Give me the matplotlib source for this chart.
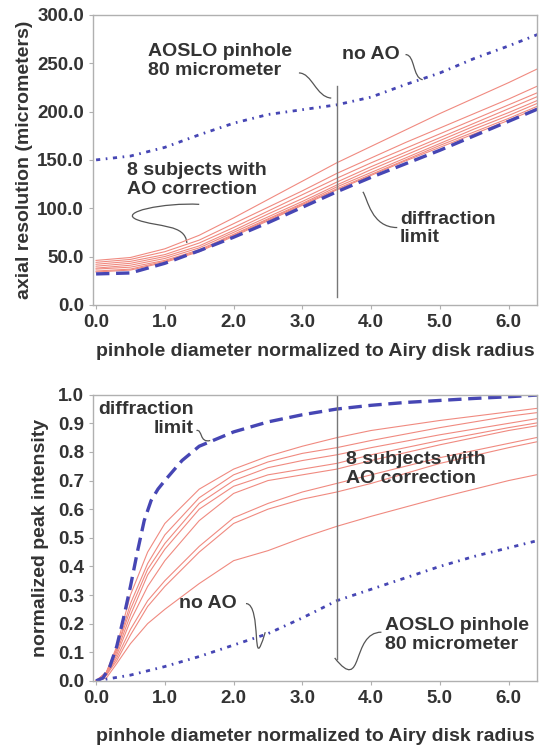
import numpy as np
import matplotlib
matplotlib.use("Agg")
from matplotlib import pyplot as plt
from matplotlib.path import Path
from matplotlib.patches import PathPatch

plt.rcParams['font.family'] = ['Liberation Sans', 'DejaVu Sans']
plt.rcParams['font.weight'] = 'bold'
plt.rcParams['axes.labelweight'] = 'bold'

# ---- top panel: axial resolution (micrometers)
x_top = [0, 0.5, 1.0, 1.5, 2.0, 2.5, 3.0, 3.5, 4.0, 4.5, 5.0, 5.5, 6.0, 6.5]
noao_top = [150, 154, 163, 176, 188, 197, 202, 207, 215, 228, 240, 255, 268, 282]
diff_top = [32, 33, 43, 56, 70, 85, 101, 117, 132, 146, 160, 175, 190, 205]
ao_top = [
    [46, 49, 58, 72, 90, 109, 128, 147, 164, 181, 198, 214, 230, 247],
    [44, 47, 55, 67, 84, 101, 118, 136, 152, 168, 183, 198, 213, 229],
    [42, 45, 52, 64, 80, 97, 114, 131, 147, 162, 177, 192, 207, 222],
    [40, 43, 50, 61, 77, 94, 110, 127, 143, 158, 173, 188, 203, 218],
    [38, 41, 48, 59, 75, 91, 107, 124, 140, 155, 170, 185, 199, 214],
    [37, 39, 46, 57, 73, 89, 105, 122, 137, 152, 167, 182, 196, 211],
    [35, 37, 45, 56, 72, 88, 104, 120, 135, 150, 165, 179, 193, 208],
    [34, 36, 44, 55, 71, 87, 103, 119, 134, 149, 163, 177, 191, 206],
]

# ---- bottom panel: normalized peak intensity
x_diff = [0, 0.1, 0.2, 0.3, 0.4, 0.5, 0.6, 0.7, 0.8, 0.9, 1.0, 1.25, 1.5,
          2.0, 2.5, 3.0, 3.5, 4.0, 4.5, 5.0, 5.5, 6.0, 6.5]
diff_bot = [0, 0.01, 0.05, 0.12, 0.22, 0.33, 0.45, 0.56, 0.63, 0.67, 0.70,
            0.77, 0.82, 0.87, 0.905, 0.93, 0.95, 0.963, 0.973, 0.98, 0.987,
            0.993, 1.0]
x_noao = [0, 0.5, 1.0, 1.5, 2.0, 2.5, 3.0, 3.5, 4.0, 4.5, 5.0, 5.5, 6.0, 6.5]
noao_bot = [0, 0.02, 0.05, 0.085, 0.125, 0.165, 0.22, 0.28, 0.32, 0.36,
            0.40, 0.435, 0.465, 0.495]
x_ao = [0, 0.15, 0.3, 0.5, 0.75, 1.0, 1.5, 2.0, 2.5, 3.0, 3.5, 4.0, 5.0, 6.0, 6.5]
ao_bot = [
    [0, 0.03, 0.12, 0.30, 0.45, 0.55, 0.67, 0.74, 0.785, 0.82, 0.85, 0.875, 0.91, 0.94, 0.955],
    [0, 0.03, 0.11, 0.27, 0.41, 0.51, 0.64, 0.72, 0.765, 0.795, 0.815, 0.84, 0.885, 0.925, 0.94],
    [0, 0.03, 0.11, 0.25, 0.39, 0.48, 0.62, 0.70, 0.745, 0.77, 0.79, 0.815, 0.86, 0.90, 0.92],
    [0, 0.02, 0.10, 0.23, 0.37, 0.46, 0.60, 0.68, 0.72, 0.74, 0.76, 0.79, 0.84, 0.885, 0.905],
    [0, 0.02, 0.09, 0.21, 0.33, 0.42, 0.56, 0.655, 0.70, 0.72, 0.74, 0.77, 0.825, 0.875, 0.895],
    [0, 0.02, 0.08, 0.18, 0.28, 0.35, 0.47, 0.57, 0.62, 0.66, 0.69, 0.72, 0.78, 0.83, 0.855],
    [0, 0.02, 0.07, 0.16, 0.26, 0.33, 0.45, 0.55, 0.60, 0.635, 0.66, 0.69, 0.76, 0.815, 0.84],
    [0, 0.01, 0.06, 0.13, 0.20, 0.25, 0.34, 0.42, 0.455, 0.50, 0.54, 0.575, 0.64, 0.70, 0.725],
]

x_ticks = [0, 1, 2, 3, 4, 5, 6]
pinhole_x = 3.5

blue = '#4646b4'
red = '#f08a80'
txt = '#333333'
gray = '#555555'
fs = 14
tfs = 13.5


def squiggle(ax, pts):
    # cubic bezier leader line, pts in data coords
    codes = [Path.MOVETO] + [Path.CURVE4] * (len(pts) - 1)
    ax.add_patch(PathPatch(Path(pts, codes), fc='none', ec=gray, lw=0.9))


def style(ax):
    for s in ax.spines.values():
        s.set_color('#b0b0b0')
        s.set_linewidth(1.0)
    ax.tick_params(colors='#b0b0b0', labelcolor=txt, labelsize=tfs, length=3)
    ax.set_xticks(x_ticks)
    ax.set_xticklabels(['%.1f' % t for t in x_ticks], fontweight='bold')
    ax.set_xlim(-0.045, 6.41)


fig = plt.figure(figsize=(5.39, 7.49), dpi=100)

# ---------------- top
ax1 = fig.add_axes([0.1725, 0.593, 0.8235, 0.387])
for ys in ao_top:
    ax1.plot(x_top, ys, color=red, lw=0.8)
ax1.plot(x_top, diff_top, color=blue, lw=2.4, dashes=(4, 2))
ax1.plot(x_top, noao_top, color=blue, lw=2.0, dashes=(1.5, 2, 0.6, 2))
ax1.plot([pinhole_x, pinhole_x], [8, 227], color='#777777', lw=1.0)
ax1.set_ylim(0, 300)
ax1.set_yticks(np.arange(0, 301, 50))
ax1.set_yticklabels(['%.1f' % v for v in np.arange(0, 301, 50)], fontweight='bold')
style(ax1)
ax1.set_ylabel('axial resolution (micrometers)', fontsize=fs, color=txt, labelpad=3)
ax1.set_xlabel('pinhole diameter normalized to Airy disk radius', fontsize=fs,
               color=txt, labelpad=9)

ax1.text(0.75, 252, 'AOSLO pinhole\n80 micrometer', fontsize=fs, color=txt,
         va='center', linespacing=1.15)
squiggle(ax1, [(2.95, 240), (3.14, 240), (3.2, 215), (3.42, 214)])
ax1.text(3.58, 259, 'no AO', fontsize=fs, color=txt, va='center')
squiggle(ax1, [(4.5, 259), (4.64, 259), (4.6, 235), (4.75, 233)])
ax1.text(0.45, 129, '8 subjects with\nAO correction', fontsize=fs, color=txt,
         va='center', linespacing=1.15)
squiggle(ax1, [(1.5, 104), (1.0, 106), (0.3, 96), (0.6, 88),
               (0.9, 80), (1.3, 84), (1.32, 64)])
ax1.text(4.42, 79, 'diffraction\nlimit', fontsize=fs, color=txt,
         va='center', linespacing=1.15)
squiggle(ax1, [(4.38, 80), (4.0, 80), (3.95, 110), (3.88, 117)])

# ---------------- bottom
ax2 = fig.add_axes([0.1725, 0.091, 0.8235, 0.382])
for ys in ao_bot:
    ax2.plot(x_ao, ys, color=red, lw=0.8)
ax2.plot(x_diff, diff_bot, color=blue, lw=2.4, dashes=(4, 2))
ax2.plot(x_noao, noao_bot, color=blue, lw=2.0, dashes=(1.5, 2, 0.6, 2))
ax2.plot([pinhole_x, pinhole_x], [0.077, 1.0], color='#777777', lw=1.0)
ax2.set_ylim(0, 1.0)
ax2.set_yticks(np.arange(0, 1.01, 0.1))
ax2.set_yticklabels(['%.1f' % v for v in np.arange(0, 1.01, 0.1)], fontweight='bold')
style(ax2)
ax2.set_ylabel('normalized peak intensity', fontsize=fs, color=txt, labelpad=6)
ax2.set_xlabel('pinhole diameter normalized to Airy disk radius', fontsize=fs,
               color=txt, labelpad=15)

ax2.text(1.42, 0.915, 'diffraction\nlimit', fontsize=fs, color=txt,
         va='center', ha='right', multialignment='right', linespacing=1.15)
squiggle(ax2, [(1.46, 0.875), (1.55, 0.88), (1.5, 0.83), (1.66, 0.84)])
ax2.text(1.2, 0.27, 'no AO', fontsize=fs, color=txt, va='center')
squiggle(ax2, [(2.18, 0.27), (2.42, 0.27), (2.25, 0.0), (2.46, 0.17)])
ax2.text(3.64, 0.74, '8 subjects with\nAO correction', fontsize=fs, color=txt,
         va='center', linespacing=1.15)
ax2.text(4.2, 0.16, 'AOSLO pinhole\n80 micrometer', fontsize=fs, color=txt,
         va='center', linespacing=1.15)
squiggle(ax2, [(4.15, 0.17), (3.7, 0.17), (3.9, -0.05), (3.47, 0.08)])

fig.savefig('out.png', dpi=100)
